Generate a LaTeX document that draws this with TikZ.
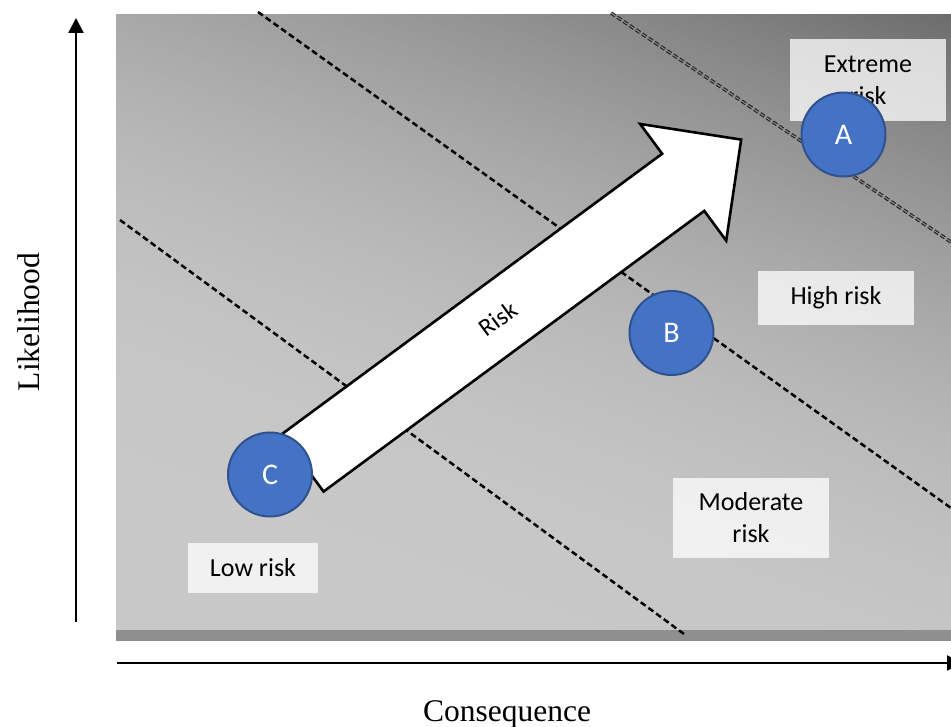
\documentclass[tikz,border=0pt]{standalone}
\usepackage{fontspec}
\setmainfont{Liberation Serif}
\newfontfamily\labfont{Carlito}
\usetikzlibrary{arrows.meta}

\definecolor{ptfill}{RGB}{68,114,196}
\definecolor{ptedge}{RGB}{47,82,143}
\definecolor{stripgray}{RGB}{143,143,143}

\tikzset{
  zoneline/.style={line width=2.5pt, dash pattern=on 6pt off 3.5pt},
  zonedouble/.style={draw=black!85, line width=1.2pt, double=black!45, double distance=1pt,
                     dash pattern=on 5pt off 2.5pt},
  riskarrow/.style={draw=black, line width=2.6pt, fill=white, line join=miter},
  risktext/.style={font=\labfont\fontsize{25}{29}\selectfont, inner sep=0pt},
  zonebox/.style={fill=white, fill opacity=0.75, text opacity=1, inner sep=0pt,
                  align=center, font=\labfont\fontsize{26}{32}\selectfont},
  riskpt/.style={circle, draw=ptedge, fill=ptfill, line width=2pt, minimum size=84pt,
                 inner sep=0pt, text=white, font=\labfont\fontsize{30}{34}\selectfont},
  axisline/.style={line width=2.3pt, -{Triangle[length=15pt,width=15pt]}},
  axislabel/.style={font=\fontsize{31.5}{36}\selectfont, inner sep=0pt}
}

\begin{document}
\begin{tikzpicture}[x=1pt, y=1pt]
\clip (0,0) rectangle (951,726);
\fill[white] (0,0) rectangle (951,726);

% graded grey panel: light towards lower left, dark towards upper right
\begin{scope}
  \clip (116,96) rectangle (951,711);
  \begin{scope}[shift={(116,96)}, rotate=70]
    \foreach \t in {0,4,...,880} {
      \pgfmathsetmacro\u{max(0,(\t-170)/100)}
      \pgfmathtruncatemacro\g{200-1.9*\u*\u}
      \definecolor{bandc}{RGB}{\g,\g,\g}
      \fill[bandc] (\t,-1000) rectangle (\t+4.6,400);
    }
  \end{scope}
\end{scope}
% darker base strip
\fill[stripgray] (116,85) rectangle (951,96);

% zone boundaries
\coordinate (z1a) at (120,506);
\coordinate (z1b) at (684,92);
\coordinate (z2a) at (258,714);
\coordinate (z2b) at (951,218);
\coordinate (z3a) at (611,713);
\coordinate (z3b) at (951,484);
\draw[zoneline] (z1a) -- (z1b);
\draw[zoneline] (z2a) -- (z2b);
\draw[zonedouble] (z3a) -- (z3b);

% rising risk arrow
\begin{scope}[shift={(302.5,263)}, rotate=36.4]
  \draw[riskarrow] (0,-35.5) -- (473,-35.5) -- (473,-72.5) -- (545,0)
        -- (473,72.5) -- (473,35.5) -- (0,35.5) -- cycle;
  \node[risktext, rotate=36.4] (risklbl) at (243,0) {Risk};
\end{scope}

% zone labels
\node[zonebox, minimum width=130pt, minimum height=50pt] (low) at (253,158) {Low risk};
\node[zonebox, minimum width=156pt, minimum height=80pt] (moderate) at (751,208) {Moderate\\risk};
\node[zonebox, minimum width=156pt, minimum height=54pt] (high) at (836,428) {High risk};
\node[zonebox, minimum width=156pt, minimum height=82pt] (extreme) at (868,646) {Extreme\\risk};

% assessed items
\node[riskpt] (A) at (843.5,591.5) {A};
\node[riskpt] (B) at (671.5,393) {B};
\node[riskpt] (C) at (270,251.5) {C};

% axes
\coordinate (yfoot) at (76,104);
\coordinate (ytip) at (76,708);
\coordinate (xfoot) at (117,63);
\coordinate (xtip) at (962,63);
\draw[axisline] (yfoot) -- (ytip);
\draw[axisline] (xfoot) -- (xtip);

\node[axislabel, rotate=90] (ylab) at (29,404) {Likelihood};
\node[axislabel, anchor=base] (xlab) at (507,5) {Consequence};
\end{tikzpicture}
\end{document}
